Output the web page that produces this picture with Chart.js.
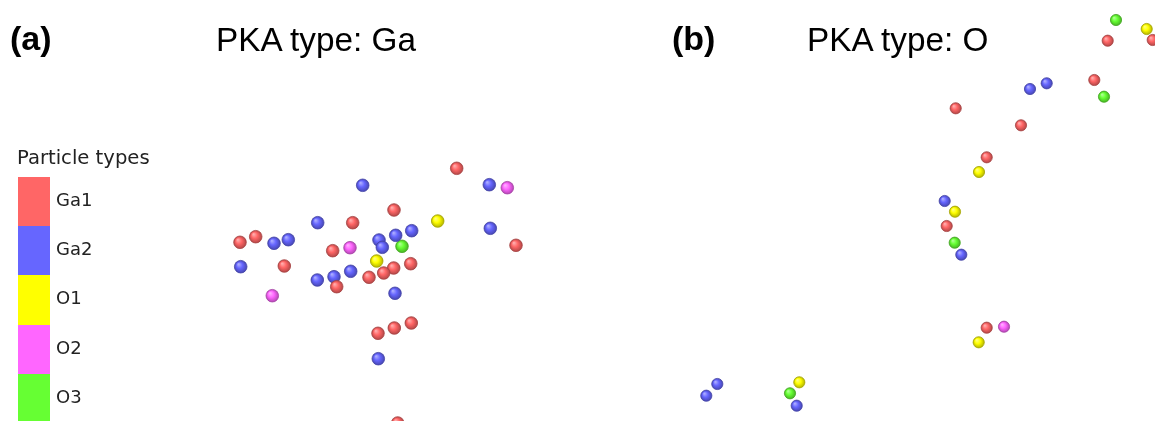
<!DOCTYPE html>
<html>
<head>
<meta charset="utf-8">
<script src="https://cdn.jsdelivr.net/npm/chart.js@4/dist/chart.umd.min.js"></script>
<style>
	body{ margin:0; background:#fff; }
	#wrap{ position:relative; width:1155px; height:421px; overflow:hidden; }
	#wrap canvas{ position:absolute; left:0; top:0; }
	.lbl{ position:absolute; white-space:nowrap; color:#000; }
	.panel{ font-family:"Liberation Sans", Arial, sans-serif; font-weight:bold; font-size:34px; top:19px; }
	.title{ font-family:"Liberation Sans", Arial, sans-serif; font-size:33.3px; top:21px; }
	.leg{ font-family:"DejaVu Sans", sans-serif; font-size:18px; color:#222; }
	.legtitle{ font-size:19.6px; }
	.swatch{ position:absolute; left:18px; width:32px; height:49.3px; }
</style>
</head>
<body>
<div id="wrap">
	<canvas id="atoms" width="1155" height="421"></canvas>
	<div class="lbl panel" style="left:10px;">(a)</div>
	<div class="lbl title" style="left:216px;">PKA type: Ga</div>
	<div class="lbl panel" style="left:672px;">(b)</div>
	<div class="lbl title" style="left:807px;">PKA type: O</div>
	<div class="lbl leg legtitle" style="left:17px; top:146px;">Particle types</div>
	<div id="legend"></div>
</div>
<script>
// particle types and colours (OVITO defaults)
var typeNames = ["Ga1", "Ga2", "O1", "O2", "O3"];
var typeColors = ["#ff6666", "#6666ff", "#ffff00", "#ff66ff", "#66ff33"];

// positions (screen units, y down)
var ga1X = [456.7, 394, 352.7, 240, 255.7, 332.7, 284.3, 516, 410.7, 393.7, 383.7, 369, 336.7, 378, 394.3, 411.3, 397.7,
	1107.7, 1152.7, 1094.3, 955.7, 1021, 986.7, 946.7, 986.7];
var ga1Y = [168.3, 210, 222.7, 242.3, 236.7, 250.7, 266, 245.3, 263.7, 268, 273, 277.3, 286.7, 333.3, 328, 323, 423,
	40.7, 40, 80, 108.3, 125.3, 157.3, 226, 327.7];
var ga2X = [362.7, 489.3, 317.7, 490.3, 411.7, 395.7, 379, 382.3, 274, 288.3, 240.7, 317.3, 334, 350.7, 395, 378.3,
	1030, 1046.7, 944.7, 961.3, 717.3, 706.3, 796.7];
var ga2Y = [185.3, 184.7, 222.7, 228.3, 230.7, 235.3, 240, 247.3, 243.3, 239.7, 266.7, 280, 276.7, 271.3, 293.3, 358.7,
	89, 83.3, 201, 254.7, 384, 395.7, 405.7];
var o1X = [437.7, 376.7, 1146.7, 979, 955, 978.7, 799.3];
var o1Y = [221, 261, 29, 172, 211.7, 342.3, 382.3];
var o2X = [507.3, 350, 272.3, 1004];
var o2Y = [187.7, 247.7, 295.7, 326.7];
var o3X = [402, 1116, 1104, 954.7, 790];
var o3Y = [246.3, 20, 96.7, 242.7, 393.3];

var allX = [ga1X, ga2X, o1X, o2X, o3X];
var allY = [ga1Y, ga2Y, o1Y, o2Y, o3Y];

function shade(hex, f){
	var n = parseInt(hex.slice(1), 16);
	var r = (n >> 16) & 255, g = (n >> 8) & 255, b = n & 255;
	if(f > 0){
		r = r + (255 - r) * f; g = g + (255 - g) * f; b = b + (255 - b) * f;
	} else {
		r = r * (1 + f); g = g * (1 + f); b = b * (1 + f);
	}
	return "rgb(" + Math.round(r) + "," + Math.round(g) + "," + Math.round(b) + ")";
}

function pointRadius(ctx){
	if(!ctx.raw) return 6;
	return ctx.raw.x > 660 ? 5.6 : 6.3;
}

// radial gradient so the atoms look like little spheres
function sphereFill(color){
	return function(ctx){
		var chart = ctx.chart;
		if(!ctx.raw || !chart.scales.x) return color;
		var px = chart.scales.x.getPixelForValue(ctx.raw.x);
		var py = chart.scales.y.getPixelForValue(ctx.raw.y);
		if(!isFinite(px) || !isFinite(py)) return color;
		var r = pointRadius(ctx);
		var g = chart.ctx.createRadialGradient(px - r * 0.35, py - r * 0.4, 0.5, px, py, r);
		g.addColorStop(0, shade(color, 0.45));
		g.addColorStop(0.45, color);
		g.addColorStop(1, shade(color, -0.3));
		return g;
	};
}

var datasets = [];
for(var i = 0; i < typeNames.length; i++){
	var pts = [];
	for(var j = 0; j < allX[i].length; j++){
		pts.push({x: allX[i][j], y: allY[i][j]});
	}
	datasets.push({
		label: typeNames[i],
		data: pts,
		pointRadius: pointRadius,
		pointBackgroundColor: sphereFill(typeColors[i]),
		pointBorderColor: shade(typeColors[i], -0.35),
		pointBorderWidth: 0.8,
		pointHoverRadius: pointRadius
	});
}

new Chart(document.getElementById("atoms").getContext("2d"), {
	type: "scatter",
	data: {datasets: datasets},
	options: {
		responsive: false,
		animation: false,
		layout: {padding: 0, autoPadding: false},
		plugins: {legend: {display: false}, tooltip: {enabled: false}},
		scales: {
			x: {type: "linear", min: 0, max: 1155, display: false},
			y: {type: "linear", min: 0, max: 421, reverse: true, display: false}
		}
	}
});

// colour bar legend
var legendEl = document.getElementById("legend");
for(var k = 0; k < typeNames.length; k++){
	var rowTop = 176.7 + k * 49.3;
	var sw = document.createElement("div");
	sw.className = "swatch";
	sw.style.top = rowTop + "px";
	sw.style.background = typeColors[k];
	legendEl.appendChild(sw);
	var t = document.createElement("div");
	t.className = "lbl leg";
	t.style.left = "56px";
	t.style.top = (rowTop + 12) + "px";
	t.textContent = typeNames[k];
	legendEl.appendChild(t);
}
</script>
</body>
</html>
